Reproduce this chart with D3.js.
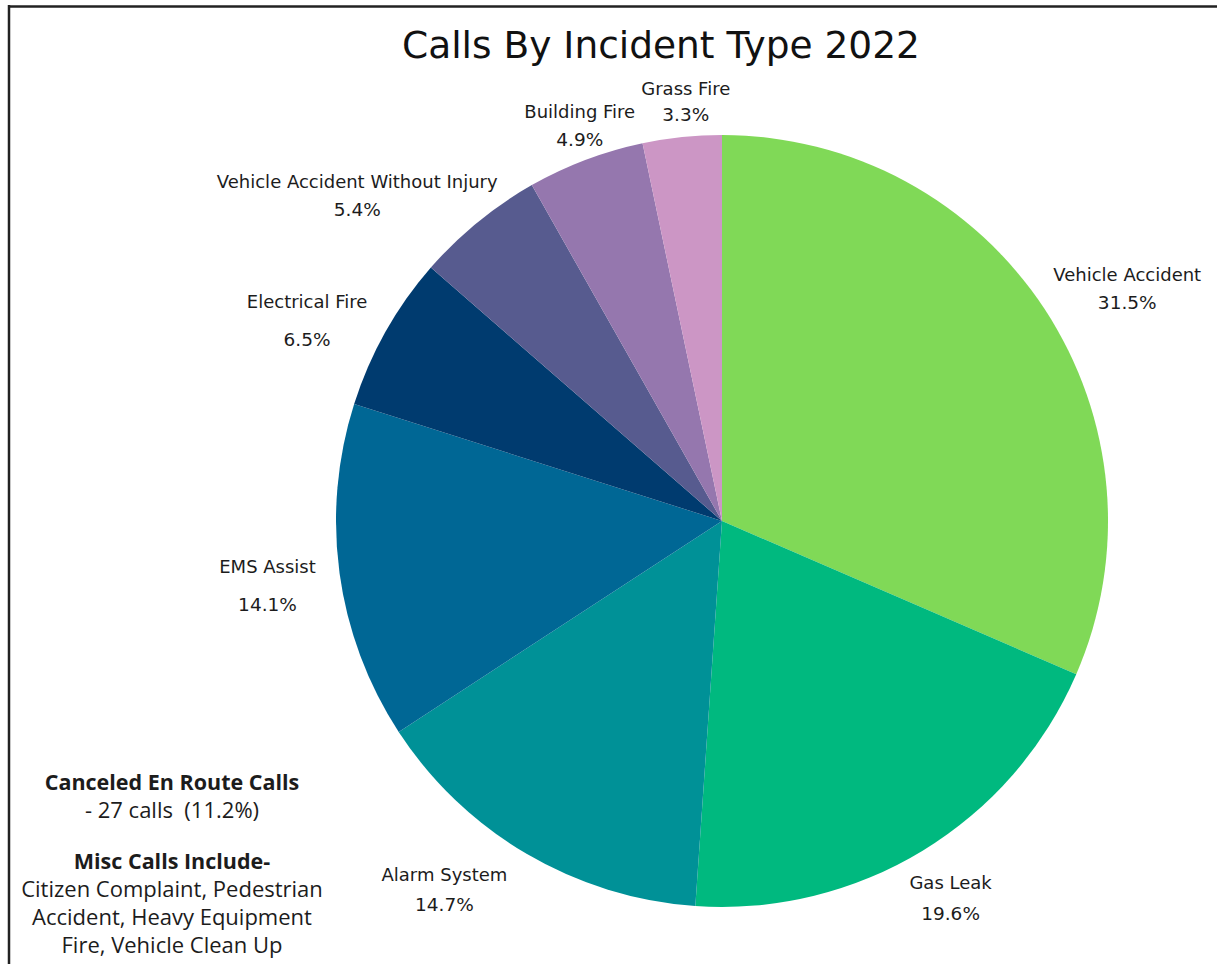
<!DOCTYPE html>
<meta charset="utf-8">
<style>
body { margin: 0; background: #fff; }
.lbl { font-family: "DejaVu Sans", sans-serif; font-size: 18px; fill: #1c1c1c; }
.pct { font-size: 18.5px; }
.note { font-family: "Open Sans", sans-serif; font-size: 22px; fill: #1c1c1c; white-space: pre; }
</style>
<body>
<script src="https://cdn.jsdelivr.net/npm/d3@7"></script>
<script>
// data
var categories = ["Vehicle Accident", "Gas Leak", "Alarm System", "EMS Assist",
  "Electrical Fire", "Vehicle Accident Without Injury", "Building Fire", "Grass Fire"];
var percents = [31.5, 19.6, 14.7, 14.1, 6.5, 5.4, 4.9, 3.3];
var colors = ["#80d957", "#00b97f", "#009197", "#006795", "#003b6f", "#575b8f", "#9577ae", "#cc96c5"];
var noteLines = [
  {t: "Canceled En Route Calls", b: true},
  {t: "- 27 calls  (11.2%)", b: false},
  {t: "Misc Calls Include-", b: true},
  {t: "Citizen Complaint, Pedestrian", b: false},
  {t: "Accident, Heavy Equipment", b: false},
  {t: "Fire, Vehicle Clean Up", b: false}
];

// label layout (best-fit nudges like the original)
var angleShift = [3.5, 0.1, 6.6, -0.3, -3.5, -9, 0.9, 1];
var radialOff = [81, 55, 75, 73, 75, 103, 34, 35];
var lineGap = [28, 31, 30, 38, 38, 28, 28, 26];

var W = 1217, H = 964, cx = 722, cy = 521, r = 386;

var svg = d3.select("body").append("svg")
  .attr("width", W).attr("height", H);

// frame
svg.append("line").attr("x1", 8).attr("x2", W).attr("y1", 6.5).attr("y2", 6.5)
  .attr("stroke", "#222").attr("stroke-width", 2.5);
svg.append("line").attr("x1", 9).attr("x2", 9).attr("y1", 5).attr("y2", H)
  .attr("stroke", "#222").attr("stroke-width", 2.5);

svg.append("text")
  .attr("x", 661).attr("y", 58)
  .attr("text-anchor", "middle")
  .style("font-family", "'DejaVu Sans', sans-serif")
  .style("font-size", "37.5px")
  .style("fill", "#111")
  .text("Calls By Incident Type 2022");

var pie = d3.pie().sort(null).value(function(d) { return d; });
var arc = d3.arc().innerRadius(0).outerRadius(r);
var arcs = pie(percents);

var g = svg.append("g").attr("transform", "translate(" + cx + "," + cy + ")");

g.selectAll("path")
  .data(arcs)
  .enter().append("path")
  .attr("d", arc)
  .attr("fill", function(d, i) { return colors[i]; });

var labels = g.selectAll(".lab")
  .data(arcs)
  .enter().append("g")
  .attr("class", "lab")
  .attr("transform", function(d, i) {
    var a = (d.startAngle + d.endAngle) / 2 + angleShift[i] * Math.PI / 180;
    var dist = r + radialOff[i];
    return "translate(" + (dist * Math.sin(a)) + "," + (-dist * Math.cos(a)) + ")";
  });

labels.append("text")
  .attr("class", "lbl")
  .attr("text-anchor", "middle")
  .attr("dominant-baseline", "central")
  .attr("y", function(d, i) { return -lineGap[i] / 2; })
  .text(function(d, i) { return categories[i]; });

labels.append("text")
  .attr("class", "lbl pct")
  .attr("text-anchor", "middle")
  .attr("dominant-baseline", "central")
  .attr("y", function(d, i) { return lineGap[i] / 2; })
  .text(function(d) { return d.value.toFixed(1) + "%"; });

// side note
var noteY = [781, 809, 860, 888, 916, 944];
svg.selectAll(".note")
  .data(noteLines)
  .enter().append("text")
  .attr("class", "note")
  .attr("x", 172)
  .attr("y", function(d, i) { return noteY[i]; })
  .attr("text-anchor", "middle")
  .attr("dominant-baseline", "central")
  .style("font-weight", function(d) { return d.b ? "bold" : "normal"; })
  .style("font-size", function(d) { return d.b ? "21.5px" : null; })
  .text(function(d) { return d.t; });
</script>
</body>
